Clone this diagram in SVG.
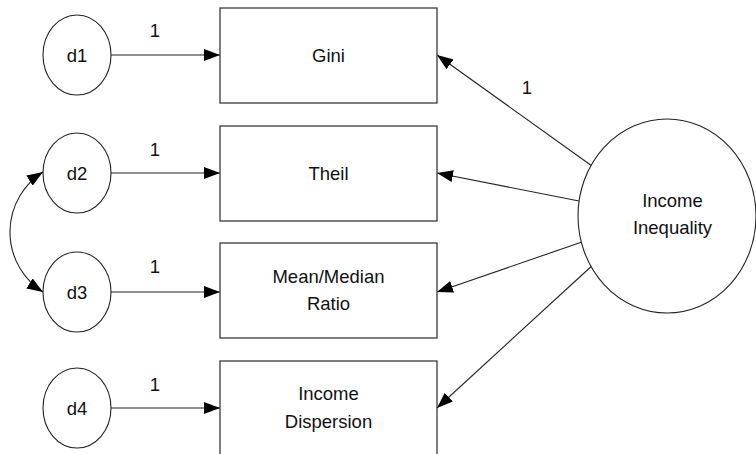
<svg xmlns="http://www.w3.org/2000/svg" width="756" height="454" viewBox="0 0 756 454">
  <style>
    .box { fill: #ffffff; stroke: #3a3a3a; stroke-width: 1.3; }
    .err { fill: #ffffff; stroke: #222222; stroke-width: 1.1; }
    .lat { fill: #ffffff; stroke: #222222; stroke-width: 1.1; }
    .edge { fill: none; stroke: #222222; stroke-width: 1.1; marker-end: url(#head); }
    .cov { fill: none; stroke: #222222; stroke-width: 1.1; marker-start: url(#head); marker-end: url(#head); }
    text { font-family: "Liberation Sans", Arial, sans-serif; font-size: 18.5px; fill: #111111; text-anchor: middle; }
  </style>
  <defs>
    <marker id="head" viewBox="0 0 16 12" refX="16" refY="6" markerWidth="16" markerHeight="12" markerUnits="userSpaceOnUse" orient="auto-start-reverse">
      <path d="M0,0 L16,6 L0,12 z" fill="#000000"/>
    </marker>
  </defs>

  <!-- connectors -->
  <g id="connectors">
    <line class="edge" x1="111" y1="55" x2="220" y2="55"/>
    <line class="edge" x1="111" y1="173" x2="220" y2="173"/>
    <line class="edge" x1="111" y1="292" x2="220" y2="292"/>
    <line class="edge" x1="111" y1="408" x2="220" y2="408"/>
    <path class="cov" d="M43,172 A71,71 0 0 0 43,292"/>
    <line class="edge" x1="592" y1="166" x2="437" y2="55"/>
    <line class="edge" x1="579" y1="201" x2="437" y2="173"/>
    <line class="edge" x1="582" y1="242" x2="437" y2="292"/>
    <line class="edge" x1="595" y1="263" x2="437" y2="408"/>
    <text x="155" y="37">1</text>
    <text x="155" y="156">1</text>
    <text x="155" y="273">1</text>
    <text x="155" y="391">1</text>
    <text x="527" y="94">1</text>
  </g>

  <!-- error terms -->
  <g id="d1"><ellipse class="err" cx="77" cy="55" rx="34" ry="40"/><text x="77" y="62">d1</text></g>
  <g id="d2"><ellipse class="err" cx="77" cy="173" rx="34" ry="40"/><text x="77" y="180">d2</text></g>
  <g id="d3"><ellipse class="err" cx="77" cy="292" rx="34" ry="40"/><text x="77" y="299">d3</text></g>
  <g id="d4"><ellipse class="err" cx="77" cy="408" rx="34" ry="40"/><text x="77" y="415">d4</text></g>

  <!-- observed indicators -->
  <g id="gini"><rect class="box" x="220" y="8" width="217" height="95"/><text x="328.5" y="62">Gini</text></g>
  <g id="theil"><rect class="box" x="220" y="126" width="217" height="95"/><text x="328.5" y="180">Theil</text></g>
  <g id="mean-median"><rect class="box" x="220" y="243" width="217" height="95"/><text x="328.5" y="283">Mean/Median</text><text x="328.5" y="310">Ratio</text></g>
  <g id="dispersion"><rect class="box" x="220" y="361" width="217" height="96"/><text x="328.5" y="400">Income</text><text x="328.5" y="428">Dispersion</text></g>

  <!-- latent factor -->
  <g id="inequality"><ellipse class="lat" cx="667" cy="216" rx="89" ry="97"/><text x="672.5" y="207">Income</text><text x="672.5" y="234">Inequality</text></g>
</svg>
